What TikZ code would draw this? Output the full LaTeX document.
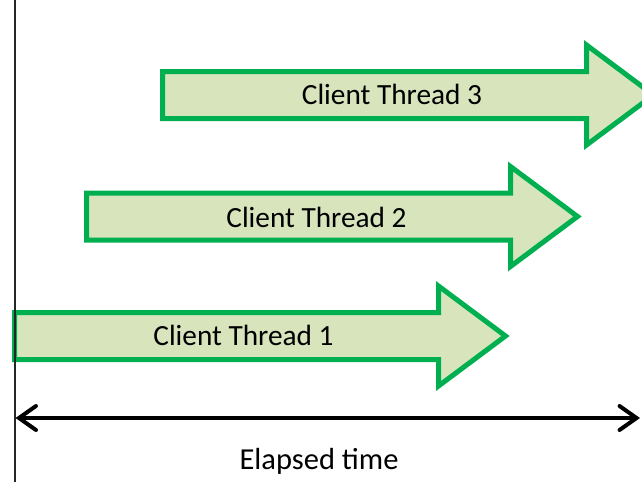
\documentclass[tikz,border=0pt]{standalone}
\usepackage{fontspec}
\setmainfont{Carlito}
\usetikzlibrary{arrows.meta}
\definecolor{arrowgreen}{HTML}{00B050}
\definecolor{arrowfill}{HTML}{D8E4BC}
\tikzset{
  threadarrow/.style={draw=arrowgreen, fill=arrowfill, line width=5pt, line join=miter},
  threadlabel/.style={anchor=base, font=\fontsize{29.3}{34}\selectfont, inner sep=0pt},
  axislabel/.style={anchor=base, font=\fontsize{30.5}{36}\selectfont, inner sep=0pt},
  timeline/.style={line width=4pt, {Straight Barb[length=17pt,width=24pt,line cap=round]}-{Straight Barb[length=17pt,width=24pt,line cap=round]}},
}
% block arrow: body 424 long, 47 high; head 67 long, 100 high
\newcommand\blockarrow[2]{%
  \draw[threadarrow] (#1,#2) ++(0,-23.5) -- ++(424,0) -- ++(0,-26.5) -- ++(67,50)
    -- ++(-67,50) -- ++(0,-26.5) -- ++(-424,0) -- cycle;}
\begin{document}
\begin{tikzpicture}[x=1pt,y=-1pt]
  \useasboundingbox (0,0) rectangle (642,482);
  % thread arrows
  \blockarrow{162.5}{95}
  \blockarrow{86.5}{216.5}
  \blockarrow{14.5}{336}
  \node[threadlabel] (t3) at (392,104.5) {Client Thread 3};
  \node[threadlabel] (t2) at (316.5,227) {Client Thread 2};
  \node[threadlabel] (t1) at (243.5,345.5) {Client Thread 1};
  % time axis
  \coordinate (axtop) at (15,0);
  \coordinate (axbot) at (15,482);
  \draw[line width=1.6pt, black!85] (axtop) -- (axbot);
  \coordinate (tstart) at (15.5,418);
  \coordinate (tend) at (640,418);
  \draw[timeline] (tstart) -- (tend);
  \node[axislabel] (lbl) at (319,469) {Elapsed time};
\end{tikzpicture}
\end{document}
